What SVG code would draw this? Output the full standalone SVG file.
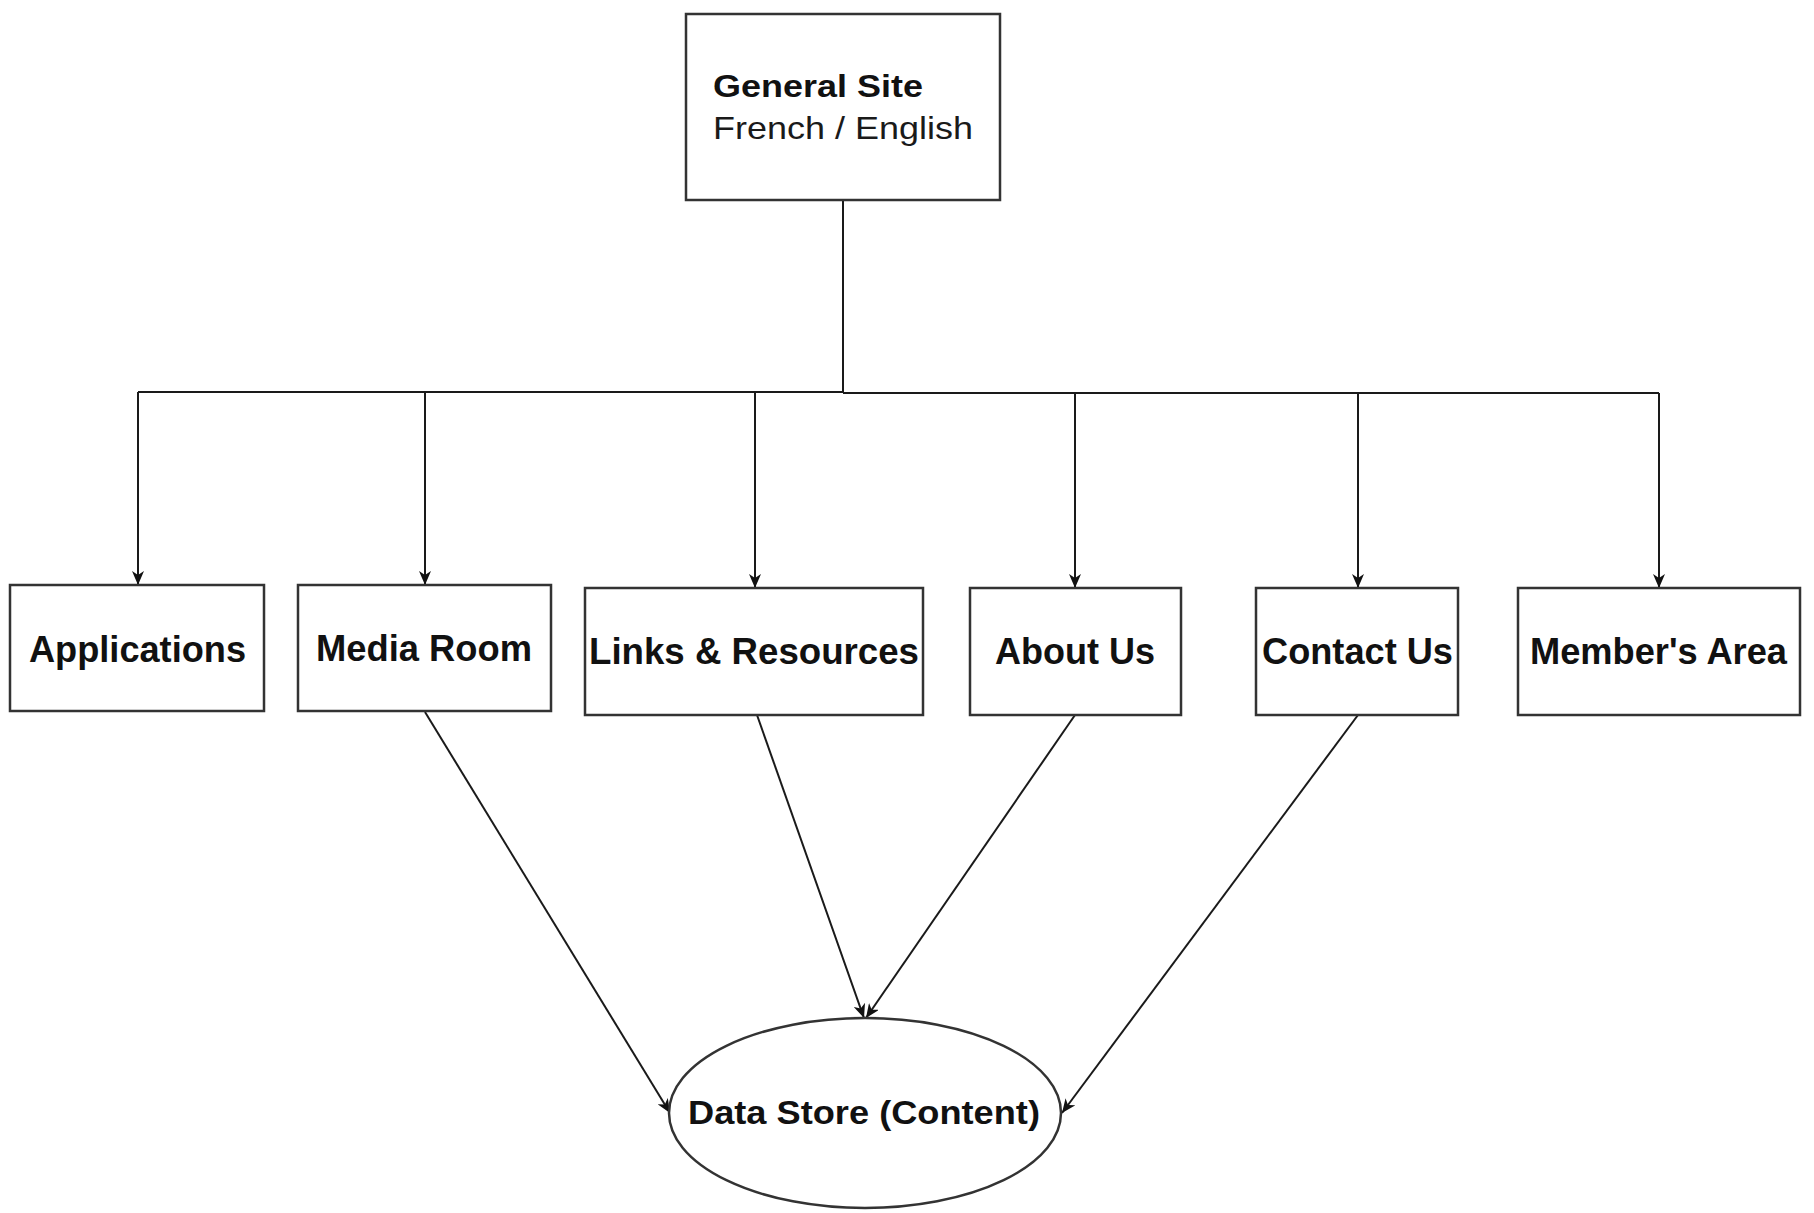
<svg xmlns="http://www.w3.org/2000/svg" width="1814" height="1213" viewBox="0 0 1814 1213">
  <style>
    .box { fill: #ffffff; stroke: #333333; stroke-width: 2.5; }
    .edge { fill: none; stroke: #1a1a1a; stroke-width: 2; }
    .lbl { font-family: "Liberation Sans", Arial, sans-serif; font-weight: bold; fill: #111111; }
    .reg { font-family: "Liberation Sans", Arial, sans-serif; fill: #1a1a1a; }
  </style>
  <defs>
    <marker id="arrow" viewBox="0 0 14 12" refX="14" refY="6" markerWidth="14" markerHeight="12" markerUnits="userSpaceOnUse" orient="auto">
      <path d="M0,0 L14,6 L0,12 L4,6 z" fill="#111111"/>
    </marker>
  </defs>
  <rect width="1814" height="1213" fill="#ffffff"/>

  <!-- connectors -->
  <g id="connectors">
    <!-- trunk and bus -->
    <path class="edge" d="M843,200 V392 H138"/>
    <path class="edge" d="M843,393 H1659"/>
    <!-- drops into each section -->
    <path class="edge" d="M138,392 V585" marker-end="url(#arrow)"/>
    <path class="edge" d="M425,392 V585" marker-end="url(#arrow)"/>
    <path class="edge" d="M755,392 V588" marker-end="url(#arrow)"/>
    <path class="edge" d="M1075,393 V588" marker-end="url(#arrow)"/>
    <path class="edge" d="M1358,393 V588" marker-end="url(#arrow)"/>
    <path class="edge" d="M1659,393 V588" marker-end="url(#arrow)"/>
    <!-- sections feeding the data store -->
    <path class="edge" d="M425,712 L670,1113" marker-end="url(#arrow)"/>
    <path class="edge" d="M757,715 L864,1018" marker-end="url(#arrow)"/>
    <path class="edge" d="M1075,715 L866,1018" marker-end="url(#arrow)"/>
    <path class="edge" d="M1358,715 L1062,1113" marker-end="url(#arrow)"/>
  </g>

  <g id="general-site">
    <rect class="box" x="686" y="14" width="314" height="186"/>
    <text class="lbl" x="713" y="97" font-size="32" textLength="210" lengthAdjust="spacingAndGlyphs">General Site</text>
    <text class="reg" x="713" y="139" font-size="32" textLength="260" lengthAdjust="spacingAndGlyphs">French / English</text>
  </g>

  <g id="applications">
    <rect class="box" x="10" y="585" width="254" height="126"/>
    <text class="lbl" x="29" y="662" font-size="36" textLength="217" lengthAdjust="spacingAndGlyphs">Applications</text>
  </g>

  <g id="media-room">
    <rect class="box" x="298" y="585" width="253" height="126"/>
    <text class="lbl" x="316" y="661" font-size="36" textLength="216" lengthAdjust="spacingAndGlyphs">Media Room</text>
  </g>

  <g id="links-resources">
    <rect class="box" x="585" y="588" width="338" height="127"/>
    <text class="lbl" x="589" y="664" font-size="36" textLength="330" lengthAdjust="spacingAndGlyphs">Links &amp; Resources</text>
  </g>

  <g id="about-us">
    <rect class="box" x="970" y="588" width="211" height="127"/>
    <text class="lbl" x="995" y="664" font-size="36" textLength="160" lengthAdjust="spacingAndGlyphs">About Us</text>
  </g>

  <g id="contact-us">
    <rect class="box" x="1256" y="588" width="202" height="127"/>
    <text class="lbl" x="1262" y="664" font-size="36" textLength="191" lengthAdjust="spacingAndGlyphs">Contact Us</text>
  </g>

  <g id="members-area">
    <rect class="box" x="1518" y="588" width="282" height="127"/>
    <text class="lbl" x="1530" y="664" font-size="36" textLength="257" lengthAdjust="spacingAndGlyphs">Member's Area</text>
  </g>

  <g id="data-store">
    <ellipse class="box" cx="865" cy="1113" rx="196" ry="95" stroke-width="2"/>
    <text class="lbl" x="688" y="1124" font-size="33" textLength="352" lengthAdjust="spacingAndGlyphs">Data Store (Content)</text>
  </g>
</svg>
